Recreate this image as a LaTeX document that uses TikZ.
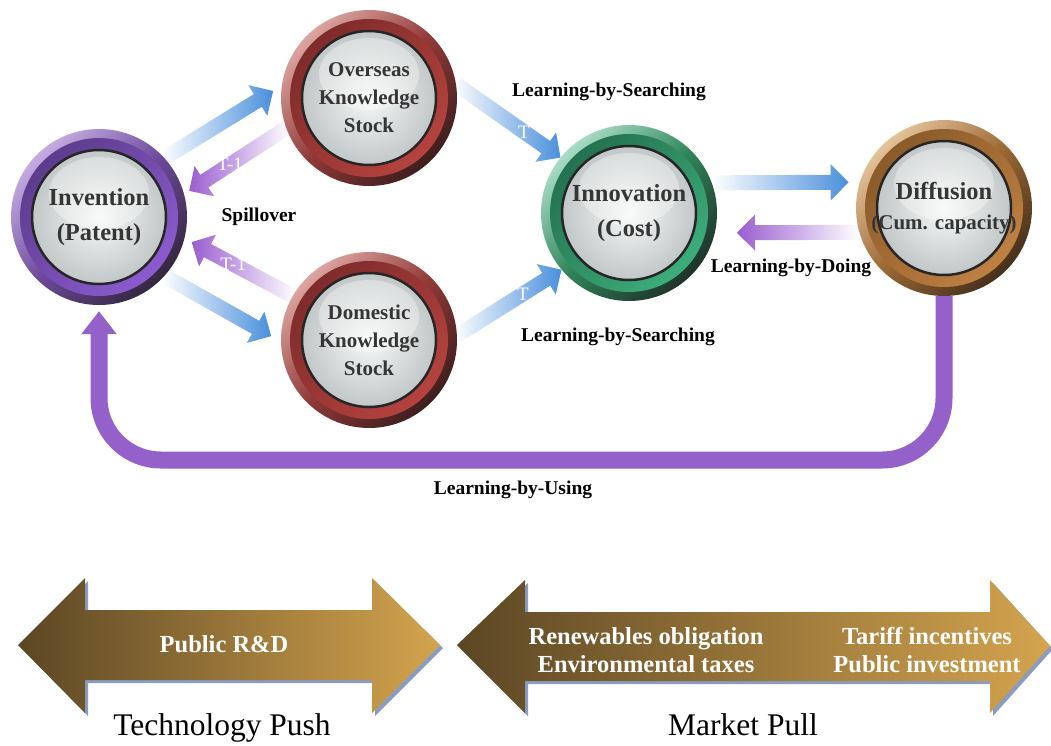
\documentclass[tikz,border=0pt]{standalone}
\usepackage{fontspec}
\setmainfont{Liberation Serif}
\usetikzlibrary{arrows.meta,calc}
\definecolor{flowblue}{HTML}{4A8FDC}
\definecolor{flowpurple}{HTML}{9A5ED0}
\definecolor{usepurple}{HTML}{9461CB}
\definecolor{knottext}{HTML}{353535}
\definecolor{goldlt}{HTML}{D4A44E}
\definecolor{golddk}{HTML}{5B4624}
\definecolor{shadowblue}{HTML}{8A9CC0}
\definecolor{purA}{HTML}{C4ACE2}
\definecolor{purB}{HTML}{34273F}
\definecolor{purC}{HTML}{8E5DD2}
\definecolor{purD}{HTML}{5A3A88}
\definecolor{purM}{HTML}{6E4A9C}
\definecolor{redA}{HTML}{DCA4A0}
\definecolor{redB}{HTML}{3E1E1E}
\definecolor{redC}{HTML}{B8443F}
\definecolor{redD}{HTML}{7C2A2A}
\definecolor{redM}{HTML}{903A38}
\definecolor{grnA}{HTML}{A9DCC6}
\definecolor{grnB}{HTML}{1F3329}
\definecolor{grnC}{HTML}{3FB07E}
\definecolor{grnD}{HTML}{226E4E}
\definecolor{grnM}{HTML}{2F8459}
\definecolor{brnA}{HTML}{E4C29A}
\definecolor{brnB}{HTML}{45301C}
\definecolor{brnC}{HTML}{C28244}
\definecolor{brnD}{HTML}{875828}
\definecolor{brnM}{HTML}{9C6834}
\definecolor{discA}{HTML}{F6F8F8}
\definecolor{discB}{HTML}{C2C7C7}
\pgfdeclarelayer{back}
\pgfsetlayers{back,main}
\begin{document}
\begin{tikzpicture}[x=1pt, y=-1pt,
  knot/.style n args={5}{circle, minimum size=176pt, inner sep=0pt, align=center,
    text=knottext, font=\fontsize{24.5}{35}\selectfont\bfseries,
    top color=#1, bottom color=#2, middle color=#5, shading angle=45,
    path picture={
      \path[top color=#4, bottom color=#3, shading angle=45]
        (path picture bounding box.center) circle (79pt);
      \path[draw=black!85, line width=2.5pt, inner color=discA, outer color=discB]
        (path picture bounding box.center) circle (67pt);
      \fill[white, opacity=0.35] ($(path picture bounding box.center)+(0,-24)$) ellipse (50pt and 36pt);
    }},
  tipgap/.store in=\tipgap, tipgap=0pt,
  flow/.style={to path={let \p1=(\tikztostart),
      \p2=($(\tikztotarget)!\tipgap!(\tikztostart)$), \p3=($(\p2)!18pt!(\p1)$) in
      ($(\p1)!7.5pt!90:(\p2)$) -- ($(\p3)!7.5pt!90:(\p2)$) -- ($(\p3)!18pt!90:(\p2)$)
      -- (\p2) -- ($(\p3)!18pt!-90:(\p2)$) -- ($(\p3)!7.5pt!-90:(\p2)$)
      -- ($(\p1)!7.5pt!-90:(\p2)$) -- cycle}},
  fwd/.style={flow, left color=white, right color=flowblue},
  rev/.style={flow, left color=flowpurple, right color=white},
  tag/.style={text=white, font=\fontsize{19}{19}\selectfont},
  lab/.style={font=\fontsize{19.5}{22}\selectfont\bfseries},
  banner/.style={text=white, align=center, font=\fontsize{24.5}{28}\selectfont\bfseries},
  side/.style={anchor=base, font=\fontsize{31.5}{36}\selectfont}]
\useasboundingbox (0,0) rectangle (1051,745);

\node[knot={purA}{purB}{purC}{purD}{purM}] (inv) at (99,217) {Invention\\(Patent)};
\node[knot={redA}{redB}{redC}{redD}{redM}, font=\fontsize{21}{28}\selectfont\bfseries] (ovs) at (369,98) {Overseas\\Knowledge\\Stock};
\node[knot={redA}{redB}{redC}{redD}{redM}, font=\fontsize{21}{28}\selectfont\bfseries] (dom) at (369,340) {Domestic\\Knowledge\\Stock};
\node[knot={grnA}{grnB}{grnC}{grnD}{grnM}] (inn) at (629,213) {Innovation\\(Cost)};
\node[knot={brnA}{brnB}{brnC}{brnD}{brnM}] (dif) at (944,208) {Diffusion\\[-5pt]{\fontsize{21}{28}\selectfont(Cum. capacity)}};

\begin{pgfonlayer}{back}
\path[fwd, tipgap=10pt] (inv.42) to (ovs.172);
\path[rev, tipgap=6pt] (ovs.200) to (inv.15);
\path[rev, tipgap=8pt] (dom.150) to (inv.-14);
\path[fwd, tipgap=11pt] (inv.-42) to (dom.181);
\path[fwd] (ovs.9) to (inn.141);
\path[fwd] (dom.3) to (inn.220);
\path[fwd, tipgap=11pt] (inn.20) to (dif.163);
\path[rev, tipgap=22pt] (dif.196) to (inn.-13);
\end{pgfonlayer}

\node[tag] (lag1) at ($(ovs.200)!0.55!(inv.15)$) {T-1};
\node[tag] (lag2) at ($(dom.150)!0.55!(inv.-14)$) {T-1};
\node[tag] (now1) at ($(ovs.9)!0.65!(inn.141)$) {T};
\node[tag] (now2) at ($(dom.3)!0.63!(inn.220)$) {T};

\node[lab] (search1) at (609,92) {Learning-by-Searching};
\node[lab] (spill) at (259,217) {Spillover};
\node[lab] (doing) at (791,268) {Learning-by-Doing};
\node[lab] (search2) at (618,337) {Learning-by-Searching};
\node[lab] (using) at (513,490) {Learning-by-Using};

\coordinate (usebase) at (520,460);
\draw[usepurple, line width=17pt, rounded corners=62pt, -{Triangle[length=23pt,width=34pt]}, shorten >=6pt]
  (dif.south) -- (dif.south |- usebase) -- (inv.south |- usebase) -- (inv.south);

\fill[shadowblue, shift={(3,3)}] (18,645) -- (85,578) -- (85,610) -- (372,610) -- (372,578) -- (440,645)
  -- (372,713) -- (372,680) -- (85,680) -- (85,713) -- cycle;
\shade[left color=golddk, right color=goldlt] (18,645) -- (85,578) -- (85,610) -- (372,610) -- (372,578) -- (440,645)
  -- (372,713) -- (372,680) -- (85,680) -- (85,713) -- cycle;
\fill[shadowblue, shift={(3,3)}] (457,645) -- (525,580) -- (525,612) -- (990,612) -- (990,580) -- (1050,646)
  -- (990,713) -- (990,681) -- (525,681) -- (525,713) -- cycle;
\shade[left color=golddk, right color=goldlt] (457,645) -- (525,580) -- (525,612) -- (990,612) -- (990,580) -- (1050,646)
  -- (990,713) -- (990,681) -- (525,681) -- (525,713) -- cycle;

\node[banner, anchor=base] (rnd) at (224,652) {Public R\&D};
\node[banner] (oblig) at (646,650) {Renewables obligation\\Environmental taxes};
\node[banner] (tariff) at (927,650) {Tariff incentives\\Public investment};
\node[side] (push) at (222,735) {Technology Push};
\node[side] (pull) at (743,735) {Market Pull};
\end{tikzpicture}
\end{document}
